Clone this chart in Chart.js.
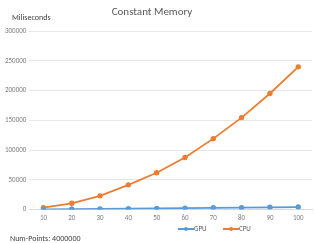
<!DOCTYPE html>
<html>
<head>
<meta charset="utf-8">
<script src="https://cdn.jsdelivr.net/npm/chart.js@4/dist/chart.umd.min.js"></script>
<style>
  html, body { margin: 0; padding: 0; background: #fff; }
  #wrap { width: 316px; height: 243px; }
</style>
</head>
<body>
<div id="wrap"><canvas id="memChart" width="316" height="243"></canvas></div>
<script>
// Datos del gráfico
const puntos = ['10', '20', '30', '40', '50', '60', '70', '80', '90', '100'];
const gpuMs = [500, 900, 1300, 1700, 2100, 2500, 3000, 3300, 3900, 4300];
const cpuMs = [3400, 10600, 23100, 41600, 61900, 87600, 119200, 154500, 195000, 239800];
const yTicks = [0, 50000, 100000, 150000, 200000, 250000, 300000];

const fontFam = "Calibri, Carlito, 'Open Sans', 'Liberation Sans', sans-serif";

// Textos extra: título, eje Y, leyenda y nota inferior
const extrasPlugin = {
    id: 'extras',
    afterDraw(chart) {
        const ctx = chart.ctx;
        ctx.save();
        ctx.textBaseline = 'middle';

        ctx.fillStyle = '#595959';
        ctx.font = '11px ' + fontFam;
        ctx.textAlign = 'center';
        ctx.fillText('Constant Memory', 152, 12);

        ctx.fillStyle = '#404040';
        ctx.font = '8px ' + fontFam;
        ctx.textAlign = 'left';
        ctx.fillText('Miliseconds', 12, 18);
        ctx.fillText('Num-Points: 4000000', 10, 239);

        // Leyenda
        const items = [
            { ds: chart.data.datasets[0], x: 178 },
            { ds: chart.data.datasets[1], x: 223 }
        ];
        items.forEach(it => {
            const y = 229;
            ctx.strokeStyle = it.ds.borderColor;
            ctx.lineWidth = 2;
            ctx.beginPath();
            ctx.moveTo(it.x, y);
            ctx.lineTo(it.x + 16, y);
            ctx.stroke();
            ctx.fillStyle = it.ds.borderColor;
            ctx.beginPath();
            ctx.arc(it.x + 8, y, 2, 0, Math.PI * 2);
            ctx.fill();
            ctx.fillStyle = '#595959';
            ctx.font = '7px ' + fontFam;
            ctx.fillText(it.ds.label, it.x + 16, y);
        });
        ctx.restore();
    }
};

const memChart = new Chart(document.getElementById('memChart').getContext('2d'), {
    type: 'line',
    data: {
        labels: puntos,
        datasets: [{
            label: 'GPU',
            data: gpuMs,
            borderColor: '#5B9BD5',
            backgroundColor: '#5B9BD5',
            borderWidth: 1.8,
            pointRadius: 1.8,
            pointHoverRadius: 1.8
        }, {
            label: 'CPU',
            data: cpuMs,
            borderColor: '#ED7D31',
            backgroundColor: '#ED7D31',
            borderWidth: 1.8,
            pointRadius: 1.8,
            pointHoverRadius: 1.8
        }]
    },
    options: {
        responsive: false,
        animation: false,
        layout: { padding: { top: 31, left: 2, right: 0, bottom: 17 } },
        plugins: {
            legend: { display: false },
            title: { display: false },
            tooltip: { enabled: false }
        },
        scales: {
            x: {
                offset: true,
                grid: { display: false, drawTicks: false },
                border: { color: '#d9d9d9' },
                ticks: { color: '#7f7f7f', font: { size: 7, family: fontFam }, padding: 4, maxRotation: 0 }
            },
            y: {
                min: 0,
                max: 300000,
                afterBuildTicks: axis => { axis.ticks = yTicks.map(v => ({ value: v })); },
                grid: { color: '#e6e6e6', drawTicks: false },
                border: { display: false },
                ticks: {
                    color: '#7f7f7f',
                    font: { size: 7, family: fontFam },
                    padding: 3,
                    callback: v => String(v)
                }
            }
        }
    },
    plugins: [extrasPlugin]
});
</script>
</body>
</html>
